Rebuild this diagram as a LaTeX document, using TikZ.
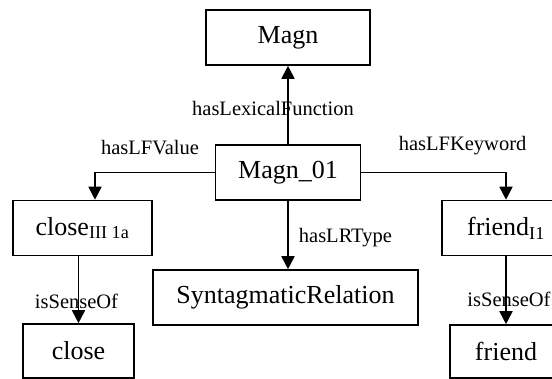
\documentclass[tikz,border=0pt]{standalone}
\usepackage{fontspec}
\setmainfont{Liberation Serif}
\usetikzlibrary{arrows.meta}

\begin{document}
\begin{tikzpicture}[x=1pt,y=-1pt,
    box/.style={draw,line width=1.6pt,inner sep=0pt,
                minimum height=55pt,font=\fontsize{26}{30}\selectfont},
    lbl/.style={inner sep=0pt,font=\fontsize{20.5}{24}\selectfont},
    arr/.style={line width=1.8pt,-{Triangle[width=13pt,length=13pt]}}]
  \path[use as bounding box,clip] (0,0) rectangle (552,379);
  % nodes
  \node[box,minimum width=164pt] (magn)    at (288,37.5)  {Magn};
  \node[box,minimum width=145pt] (magn01)  at (288,172.5) {Magn\_01};
  \node[box,minimum width=139pt] (closeL)  at (82.5,228)  {close\textsubscript{III 1a}};
  \node[box,minimum width=265pt] (syntrel) at (285.5,297.5) {SyntagmaticRelation};
  \node[box,minimum width=128pt] (friendL) at (506,228)   {friend\textsubscript{I1}};
  \node[box,minimum width=111pt,minimum height=54pt] (close)  at (78.5,351) {close};
  \node[box,minimum width=112pt,minimum height=53pt] (friend) at (506,351.5) {friend};
  % relations
  \draw[arr] (magn01) -- node[lbl,pos=0.45,xshift=-15pt] {hasLexicalFunction} (magn);
  \draw[arr] (magn01.west) -| node[lbl,pos=0.27,anchor=south,yshift=17pt] {hasLFValue}
    ([xshift=12.5pt]closeL.north);
  \draw[arr] (magn01.east) -| node[lbl,pos=0.35,anchor=south,yshift=17pt] {hasLFKeyword}
    (friendL.north);
  \draw[arr] (magn01.south) -- node[lbl,pos=0.54,anchor=west,xshift=10pt] {hasLRType}
    (magn01.south |- syntrel.north);
  \draw[arr] (close.north |- closeL.south) -- node[lbl,pos=0.67,xshift=-2pt] {isSenseOf}
    (close.north);
  \draw[arr] (friendL) -- node[lbl,pos=0.64,xshift=3pt] {isSenseOf} (friend);
\end{tikzpicture}
\end{document}
